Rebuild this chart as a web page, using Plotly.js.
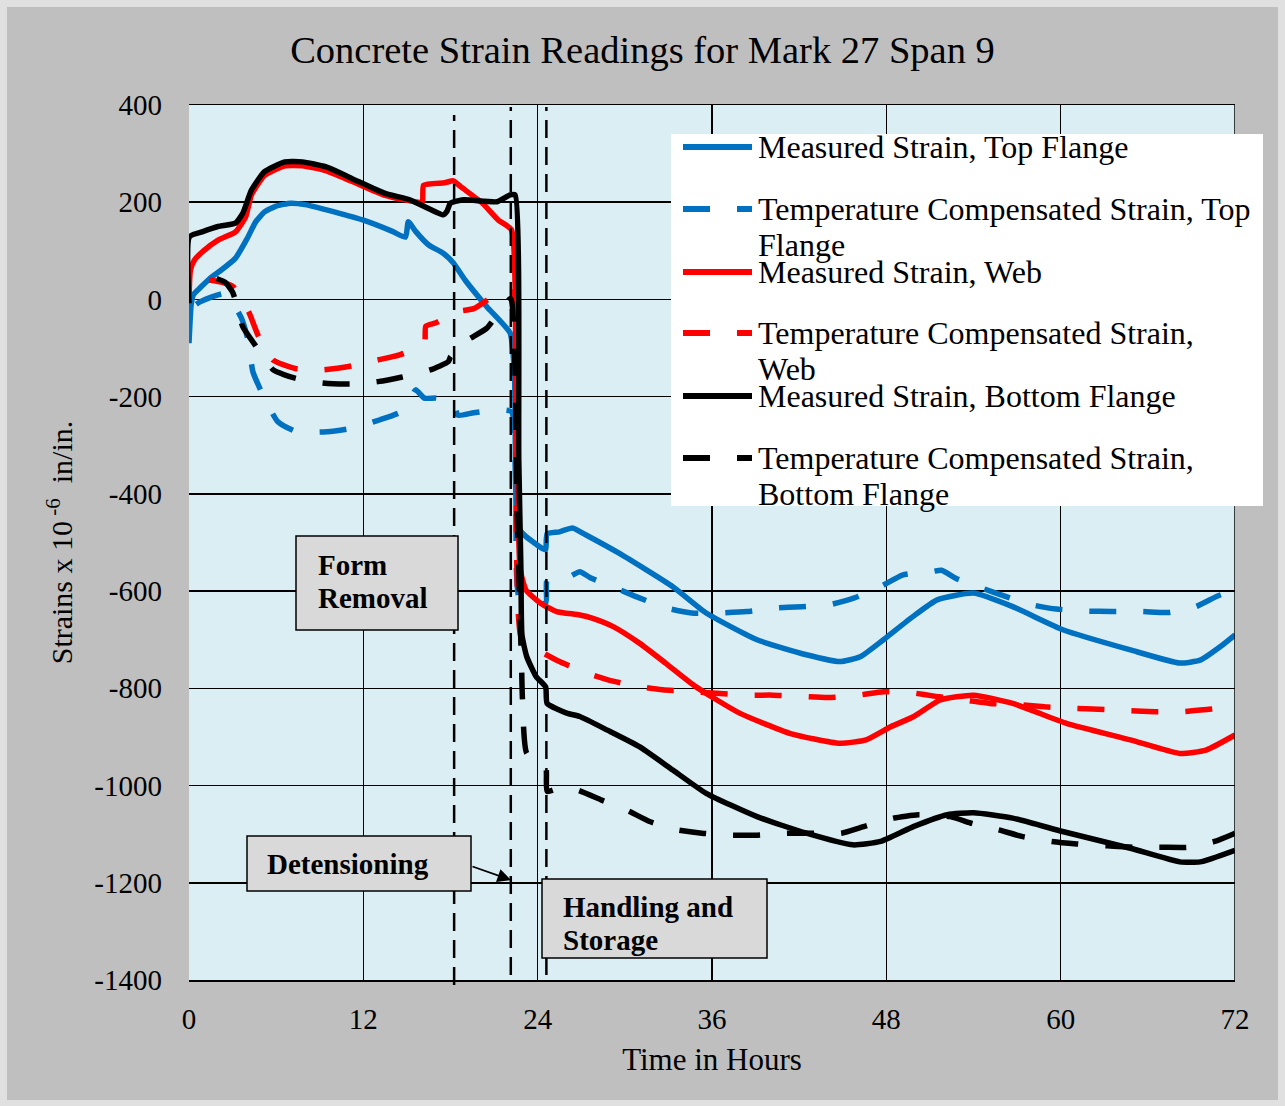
<!DOCTYPE html>
<html><head><meta charset="utf-8">
<script src="https://cdn.plot.ly/plotly-3.0.1.min.js"></script>
<style>html,body{margin:0;padding:0;background:#bfbfbf}</style>
</head><body>
<div id="chart" style="width:1285px;height:1106px"></div>
<script>
// ---------- DATA ----------
const tTopMeasured = [0, 0.15, 0.3, 0.8, 1.5, 2.2, 3.2, 4.0, 4.6, 5.2, 6.0, 7.0, 8.0, 10.0, 12.0, 14.0, 14.9, 15.1, 15.6, 16.5, 17.5, 18.2, 19.0, 20.5, 22.1, 22.4, 22.55, 22.8, 23.2, 24.3, 24.55, 24.65, 25.5, 26.4, 27.3, 29.6, 33.3, 35.6, 39.1, 42.5, 44.8, 46.2, 47.8, 49.8, 51.5, 54.0, 56.7, 60.2, 64.8, 68.2, 69.6, 71.0, 72.0];
const topMeasured = [-90, -10, 10, 25, 45, 60, 85, 125, 160, 180, 192, 198, 195, 180, 163, 140, 128, 160, 140, 112, 95, 75, 40, -15, -69, -150, -447, -475, -488, -512, -515, -482, -478, -470, -484, -522, -591, -645, -700, -731, -745, -735, -700, -653, -618, -604, -632, -680, -721, -748, -742, -714, -690];

const tTopComp = [0.5, 0.76, 2.5, 3.6, 4.06, 4.4, 5.1, 6.1, 7.4, 9.5, 11.2, 13.1, 14.6, 15.3, 15.6, 16.2, 17.0, 18.2, 18.5, 19.6, 21.3, 22.2, 22.5, 22.8, 24.55, 24.65, 26.2, 26.9, 27.6, 29.4, 31.0, 32.9, 34.6, 36.5, 38.4, 40.3, 42.2, 44.1, 45.8, 47.6, 49.1, 51.1, 51.8, 52.8, 54.6, 56.2, 58.0, 59.7, 61.7, 63.5, 65.6, 67.4, 69.3, 70.8, 72.0];
const topComp = [-10, -5, 12, -38, -83, -149, -197, -251, -272, -272, -265, -248, -231, -200, -186, -203, -203, -210, -238, -233, -227, -231, -400, -620, -624, -577, -570, -560, -572, -594, -614, -635, -645, -645, -642, -635, -632, -628, -614, -591, -567, -560, -557, -574, -594, -611, -628, -637, -641, -642, -642, -644, -632, -610, -598];

const tWebMeasured = [0, 0.1, 0.4, 1.0, 2.0, 3.2, 3.9, 4.3, 5.2, 6.6, 7.8, 9.4, 11.2, 13.5, 15.2, 16.05, 16.15, 17.6, 18.2, 18.7, 20.2, 21.3, 22.2, 22.5, 22.8, 23.2, 24.2, 25.3, 26.9, 27.8, 29.2, 31.0, 32.8, 34.9, 37.9, 41.4, 44.8, 46.6, 48.3, 49.9, 51.7, 54.0, 56.7, 60.4, 64.8, 68.2, 70.0, 72.0];
const webMeasured = [0, 60, 82, 100, 122, 139, 170, 215, 255, 275, 275, 265, 243, 214, 203, 200, 235, 240, 244, 232, 198, 163, 143, -200, -556, -598, -625, -642, -649, -656, -673, -707, -748, -797, -851, -893, -913, -906, -879, -858, -824, -814, -831, -872, -906, -934, -927, -896];

const tWebComp = [1.4, 2.3, 3.05, 4.1, 4.8, 5.8, 7.3, 9.1, 11.0, 12.9, 14.5, 16.2, 16.3, 17.0, 18.5, 19.6, 21.2, 22.2, 22.5, 22.9, 24.0, 25.5, 27.4, 28.9, 30.9, 32.6, 34.6, 36.3, 38.5, 40.2, 42.3, 44.0, 46.1, 47.8, 49.7, 51.5, 53.4, 55.1, 57.2, 58.9, 60.9, 62.6, 64.7, 66.5, 68.4, 70.2, 72.0];
const webComp = [40, 35, 26, -25, -77, -125, -142, -145, -138, -125, -114, -90, -55, -48, -25, -19, 12, 20, -300, -700, -721, -745, -769, -783, -796, -803, -807, -810, -814, -814, -817, -819, -814, -807, -809, -817, -824, -831, -834, -838, -841, -843, -846, -848, -848, -843, -838];

const tBotMeasured = [0, 0.03, 0.9, 2.0, 3.2, 3.7, 4.3, 5.2, 6.6, 7.8, 9.4, 11.2, 13.5, 15.2, 17.5, 17.75, 18.0, 18.9, 21.2, 22.1, 22.45, 22.7, 22.85, 22.92, 23.25, 23.9, 24.55, 24.65, 26.0, 26.9, 28.8, 31.0, 33.3, 35.6, 39.1, 42.5, 45.7, 47.6, 49.9, 52.2, 54.0, 56.7, 60.2, 64.8, 68.2, 69.6, 72.0];
const botMeasured = [-8, 129, 139, 150, 157, 177, 225, 263, 283, 283, 273, 249, 218, 205, 174, 181, 198, 205, 201, 215, 215, -330, -560, -690, -735, -776, -797, -831, -851, -858, -886, -920, -968, -1016, -1064, -1098, -1122, -1115, -1084, -1060, -1056, -1067, -1095, -1129, -1157, -1157, -1133];

const tBotComp = [1.9, 2.5, 3.0, 3.2, 3.7, 4.7, 5.8, 7.3, 9.2, 11.1, 13.0, 14.6, 16.6, 17.85, 18.0, 19.0, 20.5, 21.6, 22.15, 22.6, 22.9, 22.95, 23.25, 24.55, 24.65, 25.5, 26.7, 28.4, 30.1, 31.7, 33.6, 35.3, 37.2, 39.1, 41.1, 42.9, 44.9, 46.5, 48.5, 50.2, 52.4, 53.9, 55.7, 57.4, 59.4, 61.1, 63.2, 65.0, 67.0, 68.8, 70.6, 72.0];
const botComp = [43, 35, 15, -2, -56, -100, -145, -162, -172, -174, -169, -160, -145, -128, -118, -87, -59, -15, 2, -450, -766, -820, -934, -961, -1012, -1005, -1009, -1030, -1050, -1074, -1091, -1098, -1102, -1102, -1098, -1098, -1098, -1084, -1067, -1060, -1064, -1078, -1091, -1105, -1115, -1120, -1124, -1127, -1127, -1127, -1115, -1098];

const seriesNames = [
  'Measured Strain, Top Flange',
  'Temperature Compensated Strain, Top Flange',
  'Measured Strain, Web',
  'Temperature Compensated Strain, Web',
  'Measured Strain, Bottom Flange',
  'Temperature Compensated Strain, Bottom Flange'
];
const legendLines = [
  ['Measured Strain, Top Flange'],
  ['Temperature Compensated Strain, Top', 'Flange'],
  ['Measured Strain, Web'],
  ['Temperature Compensated Strain,', 'Web'],
  ['Measured Strain, Bottom Flange'],
  ['Temperature Compensated Strain,', 'Bottom Flange']
];
const seriesColors = ['#0070c0', '#0070c0', '#ff0000', '#ff0000', '#000000', '#000000'];
const seriesDashed = [false, true, false, true, false, true];

const eventTimes = [18.25, 22.15, 24.6];   // form removal, detensioning, handling
const xTickVals = [0, 12, 24, 36, 48, 60, 72];
const xTickText = ['0', '12', '24', '36', '48', '60', '72'];
const yTickVals = [400, 200, 0, -200, -400, -600, -800, -1000, -1200, -1400];
const yTickText = ['400', '200', '0', '-200', '-400', '-600', '-800', '-1000', '-1200', '-1400'];

const titleText = 'Concrete Strain Readings for Mark 27 Span 9';
const xTitle = 'Time in Hours';
const yTitle = 'Strains x 10<sup> -6</sup>  in/in.';

// ---------- LAYOUT HELPERS ----------
const W = 1285, H = 1106, ML = 189, MR = 50, MT = 105, MB = 126;
const PW = W - ML - MR, PH = H - MT - MB;
const px = p => (p - ML) / PW;
const py = p => 1 - (p - MT) / PH;
const FONT = 'Liberation Serif, Times New Roman, serif';
const DASH = '27px,27px';

const xs = [tTopMeasured, tTopComp, tWebMeasured, tWebComp, tBotMeasured, tBotComp];
const ys = [topMeasured, topComp, webMeasured, webComp, botMeasured, botComp];

const traces = xs.map((x, i) => ({
  type: 'scatter', mode: 'lines', x: x, y: ys[i], name: seriesNames[i],
  showlegend: false,
  line: {color: seriesColors[i], width: 5.5, dash: seriesDashed[i] ? DASH : 'solid',
         shape: 'spline', smoothing: 0.5}
}));

const shapes = [];
// light outer frame
const frame = '#e0e0e0';
shapes.push({type:'rect', xref:'paper', yref:'paper', x0:px(0), x1:px(7), y0:py(H), y1:py(0), fillcolor:frame, line:{width:0}, layer:'below'});
shapes.push({type:'rect', xref:'paper', yref:'paper', x0:px(W-7), x1:px(W), y0:py(H), y1:py(0), fillcolor:frame, line:{width:0}, layer:'below'});
shapes.push({type:'rect', xref:'paper', yref:'paper', x0:px(0), x1:px(W), y0:py(7), y1:py(0), fillcolor:frame, line:{width:0}, layer:'below'});
shapes.push({type:'rect', xref:'paper', yref:'paper', x0:px(0), x1:px(W), y0:py(H), y1:py(H-6), fillcolor:frame, line:{width:0}, layer:'below'});
// right border of plot
shapes.push({type:'line', xref:'x', yref:'paper', x0:72, x1:72, y0:0, y1:1, line:{color:'#000', width:1.5}});
// event lines
const evTop = [115, 107, 107], evBot = [985, 975, 975];
eventTimes.forEach((t, i) => shapes.push({type:'line', xref:'x', yref:'paper', x0:t, x1:t,
  y0:py(evBot[i]), y1:py(evTop[i]), line:{color:'#000', width:2.5, dash:'18px,9px'}}));
// annotation boxes
const boxes = [[296, 536, 458, 630], [247, 836, 471, 891], [542, 879, 767, 958]];
boxes.forEach(b => shapes.push({type:'rect', xref:'paper', yref:'paper', x0:px(b[0]), x1:px(b[2]),
  y0:py(b[3]), y1:py(b[1]), fillcolor:'#d9d9d9', line:{color:'#000', width:1.5}}));
// legend box
shapes.push({type:'rect', xref:'paper', yref:'paper', x0:px(671), x1:px(1263), y0:py(506), y1:py(134),
  fillcolor:'#ffffff', line:{width:0}});
const legY = [147, 209, 272, 333, 396, 458];
legY.forEach((y, i) => shapes.push({type:'line', xref:'paper', yref:'paper', x0:px(683), x1:px(752),
  y0:py(y), y1:py(y), line:{color:seriesColors[i], width:6, dash: seriesDashed[i] ? DASH : 'solid'}}));

const annotations = [];
legendLines.forEach((lines, i) => lines.forEach((txt, j) => annotations.push({
  xref:'paper', yref:'paper', x:px(756), y:py(legY[i] + j * 36), xanchor:'left', yanchor:'middle',
  text: txt, showarrow:false, font:{family:FONT, size:32, color:'#000'}})));
const boxText = [['Form', 316, 565], ['Removal', 316, 598], ['Detensioning', 265, 864],
                 ['Handling and', 561, 907], ['Storage', 561, 940]];
boxText.forEach(b => annotations.push({xref:'paper', yref:'paper', x:px(b[1]), y:py(b[2]),
  xanchor:'left', yanchor:'middle', text:'<b>' + b[0] + '</b>', showarrow:false,
  font:{family:FONT, size:29, color:'#000'}}));
annotations.push({xref:'paper', yref:'paper', x:px(511), y:py(880), text:'', showarrow:true,
  ax:-40, ay:-14, arrowhead:2, arrowsize:1.5, arrowwidth:1.8, arrowcolor:'#000', standoff:0});

const layout = {
  width: W, height: H,
  margin: {l: ML, r: MR, t: MT, b: MB},
  paper_bgcolor: '#bfbfbf', plot_bgcolor: '#daeef3',
  font: {family: FONT, color: '#000'},
  showlegend: false,
  title: {text: titleText, font: {family: FONT, size: 38.5, color: '#000'},
          x: 0.5, xref: 'container', xanchor: 'center', y: 1 - 50 / H, yref: 'container', yanchor: 'middle'},
  xaxis: {range: [0, 72], tickmode: 'array', tickvals: xTickVals, ticktext: xTickText,
          ticks: '', showgrid: true, gridcolor: '#000', gridwidth: 1.5, zeroline: false,
          showline: true, mirror: true, linecolor: '#000', linewidth: 1.5,
          tickfont: {family: FONT, size: 29}, ticklabelstandoff: 13,
          title: {text: xTitle, font: {family: FONT, size: 31}, standoff: 14}},
  yaxis: {range: [-1400, 400], tickmode: 'array', tickvals: yTickVals, ticktext: yTickText,
          ticks: '', showgrid: true, gridcolor: '#000', gridwidth: 1.5, zeroline: false,
          showline: false, tickfont: {family: FONT, size: 29}, ticklabelstandoff: 26,
          title: {text: yTitle, font: {family: FONT, size: 30}, standoff: 12}},
  shapes: shapes,
  annotations: annotations
};

Plotly.newPlot('chart', traces, layout, {displayModeBar: false, staticPlot: true});
</script>
</body></html>
